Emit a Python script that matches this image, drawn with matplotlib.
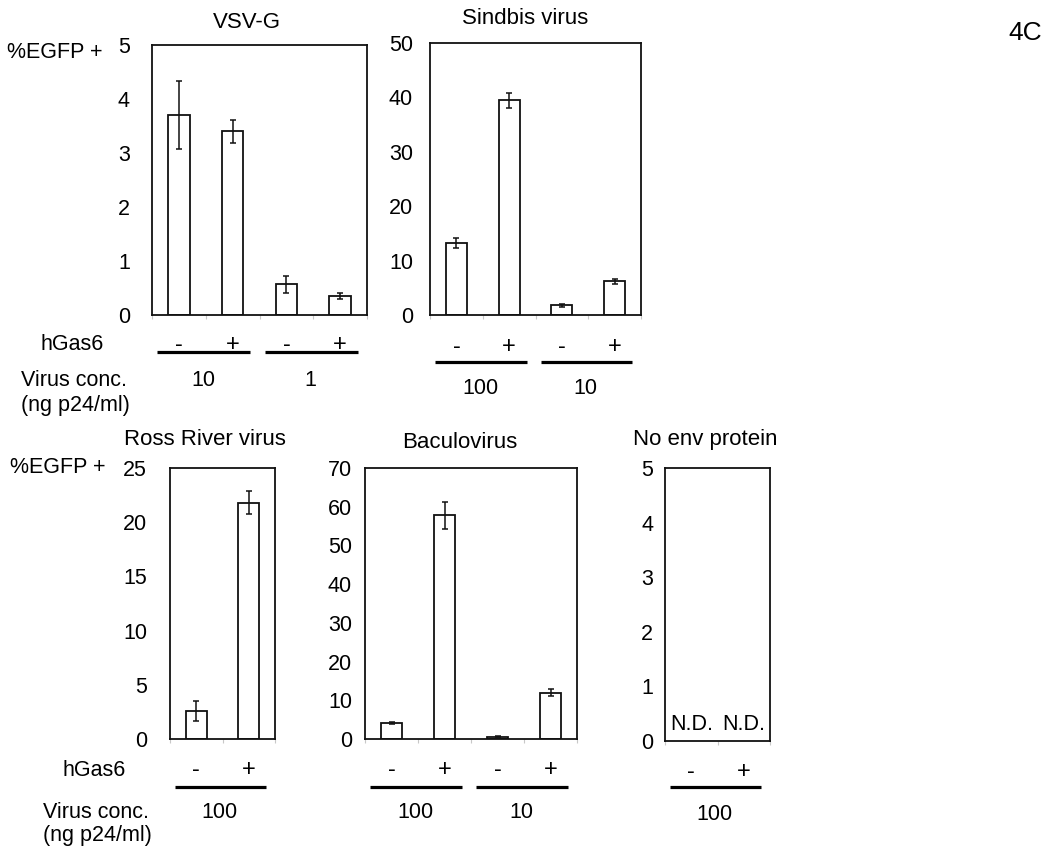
import matplotlib
matplotlib.use("Agg")
import matplotlib.pyplot as plt
import matplotlib.transforms as mtransforms

plt.rcParams['font.family'] = ['Liberation Sans', 'DejaVu Sans']

W, H = 1050, 856

# ---------------- data ----------------
signs_4 = ['-', '+', '-', '+']
signs_2 = ['-', '+']

vsv_vals = [3.70, 3.40, 0.57, 0.35]
vsv_err = [0.63, 0.22, 0.16, 0.05]
vsv_groups = ['10', '1']

sind_vals = [13.2, 39.5, 1.8, 6.2]
sind_err = [0.9, 1.4, 0.3, 0.5]
sind_groups = ['100', '10']

rr_vals = [2.6, 21.8]
rr_err = [0.9, 1.05]
rr_groups = ['100']

bac_vals = [4.1, 57.8, 0.6, 12.0]
bac_err = [0.3, 3.5, 0.2, 0.8]
bac_groups = ['100', '10']

noenv_labels = ['N.D.', 'N.D.']
noenv_groups = ['100']

FS = 15.5
FS_TITLE = 16
FS_SIGN = 17

fig = plt.figure(figsize=(W / 100, H / 100), dpi=100)


def fx(px):
    return px / W


def fy(py):
    return 1 - py / H


def panel(rect, title, title_xy, vals, errs, signs, groups, ymax, ystep, pad_px,
          sign_y, line_y, group_y, nd=None):
    x0, y0, x1, y1 = rect
    ax = fig.add_axes([fx(x0), fy(y1), (x1 - x0) / W, (y1 - y0) / H])
    n = len(signs)
    xs = list(range(n))
    if vals is not None:
        ax.bar(xs, vals, width=0.4, color='white', edgecolor='#111111', linewidth=1.3,
               zorder=2)
        ax.errorbar(xs, vals, yerr=errs, fmt='none', ecolor='#111111', elinewidth=1.1,
                    capsize=2.2, capthick=1.1, zorder=3)
    ax.set_xlim(-0.5, n - 0.5)
    ax.set_ylim(0, ymax)
    ax.set_yticks(list(range(0, ymax + 1, ystep)))
    ax.set_yticklabels([str(v) for v in range(0, ymax + 1, ystep)], fontsize=FS)
    ax.tick_params(axis='y', length=0, pad=pad_px * 0.72)
    ax.set_xticks([i - 0.5 for i in range(n + 1)])
    ax.tick_params(axis='x', length=3, width=0.8, color='#c8c8c8', labelbottom=False)
    for s in ax.spines.values():
        s.set_linewidth(1.3)
        s.set_color('#111111')
    tr = mtransforms.blended_transform_factory(ax.transData, fig.transFigure)
    for i, s in enumerate(signs):
        ax.text(i, fy(sign_y), s, transform=tr, ha='center', va='center',
                fontsize=FS_SIGN)
    for g, lab in enumerate(groups):
        start = 2 * g
        ax.plot([start - 0.4, start + 1.33], [fy(line_y), fy(line_y)], transform=tr,
                color='black', linewidth=2.3, clip_on=False, solid_capstyle='butt')
        ax.text(start + 0.45, fy(group_y), lab, transform=tr, ha='center', va='center',
                fontsize=FS)
    if nd is not None:
        for i, lab in enumerate(nd):
            ax.text(i, fy(rect[3] - 16), lab, transform=tr, ha='center', va='center',
                    fontsize=FS)
    fig.text(fx(title_xy[0]), fy(title_xy[1]), title, ha='center', va='center',
             fontsize=FS_TITLE)
    return ax


panel((152, 45, 367, 315), 'VSV-G', (247, 23), vsv_vals, vsv_err, signs_4, vsv_groups,
      5, 1, 22, 345, 352, 380)
panel((430, 43, 641, 315), 'Sindbis virus', (525, 18), sind_vals, sind_err, signs_4,
      sind_groups, 50, 10, 17, 347, 362, 388)
panel((170, 468, 275, 739), 'Ross River virus', (205, 440), rr_vals, rr_err, signs_2,
      rr_groups, 25, 5, 23, 770, 787, 813)
panel((365, 468, 577, 739), 'Baculovirus', (460, 442), bac_vals, bac_err, signs_4,
      bac_groups, 70, 10, 13, 770, 787, 813)
panel((665, 468, 770, 741), 'No env protein', (705, 440), None, None, signs_2,
      noenv_groups, 5, 1, 12, 772, 787, 815, nd=noenv_labels)

# row labels
fig.text(fx(7), fy(52), '%EGFP +', ha='left', va='center', fontsize=FS)
fig.text(fx(72), fy(345), 'hGas6', ha='center', va='center', fontsize=FS)
fig.text(fx(74), fy(380), 'Virus conc.', ha='center', va='center', fontsize=FS)
fig.text(fx(75), fy(405), '(ng p24/ml)', ha='center', va='center', fontsize=FS)

fig.text(fx(10), fy(467), '%EGFP +', ha='left', va='center', fontsize=FS)
fig.text(fx(94), fy(770), 'hGas6', ha='center', va='center', fontsize=FS)
fig.text(fx(96), fy(813), 'Virus conc.', ha='center', va='center', fontsize=FS)
fig.text(fx(97), fy(836), '(ng p24/ml)', ha='center', va='center', fontsize=FS)

fig.text(fx(1025), fy(33), '4C', ha='center', va='center', fontsize=19)

fig.savefig('out.png', dpi=100)
